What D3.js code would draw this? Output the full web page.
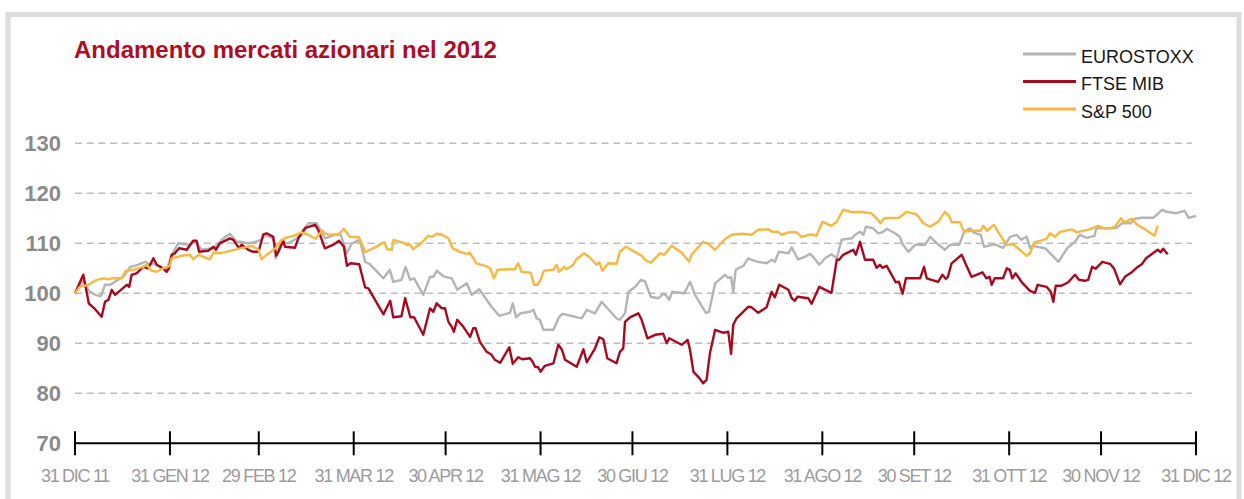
<!DOCTYPE html>
<html>
<head>
<meta charset="utf-8">
<script src="https://cdn.jsdelivr.net/npm/d3@7"></script>
<style>
  body { margin: 0; background: #fff; }
  svg { display: block; }
</style>
</head>
<body>
<svg id="chart" width="1244" height="499"></svg>
<script>
// Andamento mercati azionari nel 2012 - index levels rebased to 100 on 31 Dec 2011
// points are [days after 31 Dec 2011, value]

const seriesNames = ["EUROSTOXX", "FTSE MIB", "S&P 500"];
const seriesColors = ["#b4b4b4", "#a8091f", "#f8b840"];

const eurostoxx = [
  [0,100],[2.7,102.5],[4.5,100.5],[6.3,99.8],[8.4,99.4],[9.8,101.7],[11.5,101.7],[13,102.3],[15.8,103.3],
  [18,105.3],[20,105.6],[22.9,106.3],[24.5,105.7],[25.6,106],[28.3,105],[29.9,104.7],[31.6,107.7],[33.7,110],
  [36.9,109.7],[39.2,110.3],[41.3,108.7],[45.2,109],[47.9,110.7],[50.6,111.9],[52.8,110.3],[54.4,110.3],
  [56.6,110],[58.8,110.3],[60.9,110.7],[62,111.7],[64.7,111],[65.5,107],[67.5,110.3],[69.7,110],[72.4,111],
  [76.2,114],[78.9,114],[81.6,111],[84.9,111.7],[86.8,111.7],[88.7,108],[90.4,110],[93,110.7],[94.7,106.3],
  [96.3,105.8],[100.7,103],[102.8,104.7],[103.9,102.3],[106.6,102.7],[107.9,105.3],[109.4,102.7],[110.7,103],
  [113.7,99.7],[115.9,103.3],[117,103.3],[118.1,104.5],[120.3,103.4],[123,103],[124.8,100.7],[127.9,102],
  [129.5,99.7],[132,100.8],[136,97.3],[138.5,95.5],[142,96.1],[142.9,98],[144,95.2],[145.4,96],[148.6,96.3],
  [149.7,96.7],[150.7,95],[151.8,94.7],[152.9,92.7],[156.2,92.7],[158.1,95.3],[159.2,95.9],[165.4,95],
  [167.1,96.7],[169.8,96],[171.9,98.3],[176.8,95],[177.9,94.7],[179.6,96],[180.7,100.3],[182.8,101.2],
  [184.8,102.7],[186.1,102.4],[188,99.3],[190.4,99],[192.1,99.9],[193.1,99.5],[194,98.7],[195,100.3],
  [198.9,100],[200.8,102.3],[202.4,99.7],[206,96.1],[207,96.3],[209,102],[212.2,103.7],[213.3,103.1],
  [214.2,103.2],[214.9,100.3],[215.7,104.7],[218.2,105.5],[219.8,107],[220.9,106.7],[222.9,106.3],
  [225.8,106],[227.4,106.7],[228.5,106.3],[229.8,108.3],[232.9,108],[234,109.2],[236,106.8],[238.3,107.3],
  [240,107.9],[241,107.3],[243,105.7],[244.9,107],[247,107.8],[248.7,107],[250.3,110.7],[253.6,111],
  [254.7,111.7],[256.3,112.3],[257.4,111.7],[258.2,113.3],[260.6,113],[262.3,112],[263.9,112.3],[265,112.9],
  [267.7,112],[269.3,111.3],[270.2,109.8],[272.1,108.3],[274.3,109.7],[277.5,109.7],[279.2,111.3],
  [281.8,109.8],[284,108.7],[285.7,109.7],[288.7,109.7],[290.3,112.3],[292.2,113],[293.3,112.2],
  [295.7,111.7],[296.8,109.3],[299.5,109.7],[300.3,109.8],[303,109.1],[305.3,111.3],[307.4,111.7],
  [309,110.7],[310.7,111.3],[311.8,109.1],[312.9,109.6],[314,109.3],[316.8,109],[318.4,108],[321.1,106.3],
  [323.9,109],[326.5,110.3],[328.1,111.7],[330.3,111.1],[332.9,111.5],[333.4,113],[337.9,113],[340.1,113.1],
  [341.8,114],[344.7,114],[346.1,114.9],[348.3,115.1],[352.1,115.1],[354.9,116.7],[356.5,116.3],
  [359.3,116],[362.3,116.5],[363.6,115.1],[366,115.5]
];

const ftseMib = [
  [0,100],[2.7,103.7],[4.5,98],[6.3,97],[8.7,95.3],[9.8,98.3],[10.9,98.7],[12,100.7],[13.1,99.7],[16.9,101.7],
  [17.7,101.3],[18.5,103.7],[20.1,104],[22.3,105.3],[23.9,105],[25.6,107],[26.7,105.7],[28.8,105],[29.9,104.3],
  [30.7,105],[31.6,107.7],[32.6,108],[34,109],[36.5,108.7],[38.6,110.5],[39.7,110.5],[40.5,108.3],[43.5,108.5],
  [45.2,109.3],[46,108.7],[47.3,110],[50.6,111],[51.7,110.7],[53.6,109],[54.4,109.7],[56.6,108.7],[58.2,108.3],
  [59.9,108.3],[61.5,111.8],[62.6,112],[64.7,111.3],[65.7,107.5],[66.4,108.3],[68,110.5],[68.6,109.3],
  [71.8,109.1],[72.9,111],[75.3,113.1],[78.4,113.7],[79.4,112.7],[81.6,109],[84.6,109.8],[86.2,110.5],
  [87.8,109.3],[88.8,105.5],[90,106],[92.8,105.8],[94.7,101.2],[95.8,101],[100.7,95.8],[102.9,98.5],
  [103.9,95.2],[106.6,95.4],[107.8,99],[109.5,95.2],[110.7,95.2],[113.7,91.7],[115.9,97],[117,96.3],
  [118.1,98],[119.8,97],[120.8,97],[121.9,94.3],[123,93.3],[123.7,92.3],[124.8,94.7],[126.8,93.3],[129,91.3],
  [130,93],[130.8,93],[132.2,90.3],[134.4,88.3],[136,87.7],[137.1,86.7],[138.8,86.1],[141.8,89.2],[142.9,85.9],
  [144.7,87.2],[146,86.8],[148.6,87],[149.4,86.3],[150.2,85.3],[151.2,85.2],[152,84.3],[153.4,85.5],[156.2,86],
  [157.8,89.7],[159,88.7],[160,86.7],[163.8,85.3],[166,88.8],[167.1,86.2],[169.8,89],[171.2,91.2],[172.5,90.8],
  [173.8,87],[176.8,86],[177.9,88.3],[179,89],[179.6,94.3],[181.2,95.2],[183.9,96],[185,94.7],[186.9,91],
  [189.4,91.7],[192.1,91.9],[193.2,90],[194,91],[198.1,89.7],[200,90.7],[200.8,88.7],[201.9,84.3],[203.5,83.3],
  [205.1,82],[206.2,82.7],[207.3,88],[209,92.7],[211.7,92.1],[213.3,92.3],[214.2,87.9],[214.9,93.7],[216,95],
  [219.8,97.3],[220.9,97.2],[223.1,96.1],[225.8,97.2],[227.4,100.3],[228.5,99.2],[229.9,101.7],[232.9,100.7],
  [234,99],[235,98.5],[235.9,99.3],[239.4,99],[240.5,97.9],[243,101.3],[247,100.1],[248.7,106.7],[249.5,106.7],
  [250.8,107.7],[254.1,108.7],[254.9,107.7],[256.3,110.3],[257.9,106.7],[260.6,106.7],[261.7,105.1],
  [262.8,105.7],[263.6,105.1],[265,105.5],[268,102.2],[269,102.3],[270.2,99.9],[271.3,103],[275.9,103],
  [277.2,105.3],[278.1,103],[281.8,102.3],[283.2,103.7],[284.3,102.9],[285,103.3],[286.2,106],[289.5,107.7],
  [290.9,105.7],[292.7,103.3],[296.3,104.2],[297.6,103],[298.6,103.3],[299.3,101.7],[300.3,103],[303,103],
  [304.2,105],[305.2,104.7],[306,103],[307.1,104],[309,102.3],[311.8,100.5],[313.4,100.1],[314.3,101.7],
  [317.2,101.3],[318.6,100.3],[319.4,98.3],[320.2,101.5],[322.1,101.5],[324.3,102.2],[326.5,103.7],
  [327.8,102.7],[329.7,102.5],[330.8,102.7],[332.1,105.3],[333.2,104.9],[335.4,106.3],[337.9,105.9],
  [339.3,104.9],[341.2,101.8],[342.8,103.3],[345,104.2],[346.6,105.1],[348.3,105.8],[349.7,107],[351.9,108],
  [353.5,108.7],[354.5,108.2],[355.3,108.9],[356.8,107.8]
];

const sp500 = [
  [0,100],[1.6,101.3],[4.4,101.7],[7.1,102.7],[9.3,103],[10.9,102.8],[12.5,103],[15.2,103],[16.6,104.5],
  [19,104.7],[22.3,105.3],[23.4,105.7],[25,104.5],[26.7,104.3],[28.8,105],[31,105.5],[31.6,107],[34.8,107.5],
  [37.5,107.7],[38.6,106.8],[40.3,107.7],[44.1,106.8],[45.2,108.1],[47.3,108],[50.6,108.5],[53.9,109],
  [57.7,109.5],[59.9,108.7],[60.9,106.8],[62.6,107.7],[65.5,109],[67.5,110.7],[69.2,111.2],[71.3,111.5],
  [74,112.2],[76.2,111.7],[78.6,110.9],[80.7,112.6],[81.8,111.9],[83.3,111.7],[86,111.8],[87.8,112.9],
  [89.7,111.3],[92.7,111.2],[94.8,108.2],[96.3,108.7],[99.6,109.7],[101,110.2],[101.9,108.8],[103.4,108.7],
  [104,110.7],[107.2,110.1],[108.5,109.6],[109.5,109.7],[110.3,108.8],[113.1,110],[115.3,111.5],[116.7,111.3],
  [118.1,111.9],[119.8,111.7],[121.9,111],[123.3,109],[125.7,108.3],[127.9,107.9],[128.9,108.1],[131.1,106],
  [133.9,105.5],[135.5,105],[136.8,103],[137.9,104.7],[142,104.8],[143.6,104.8],[144.7,106],[145.8,104.3],
  [148.8,104.1],[149.9,101.7],[151,101.7],[152,102.7],[153.1,104.5],[156.2,104.7],[157.2,105.7],[158.1,104.3],
  [159.7,105.3],[160.5,104.8],[162.7,105.7],[163.6,106.7],[166.2,108],[168,107.2],[170.3,105.7],[171.2,106.2],
  [172.2,104.5],[174.1,106],[176.8,105.9],[177.9,108.3],[179.9,109.3],[181.5,108.7],[185,107.5],[186.1,106.7],
  [188,106.1],[191,108],[192.4,107.7],[194.8,109.5],[198.1,108.1],[200.5,106.3],[201.3,107.7],[205.1,110.3],
  [206.7,109.9],[209,108.7],[212.2,110.8],[214.4,111.7],[217.7,111.9],[220.9,111.7],[223.1,112.7],
  [226.4,112.8],[227.5,112.3],[229.6,112.3],[230.7,111.7],[232.9,112.2],[235.6,112.2],[237.2,111.3],
  [240.2,111.8],[242.1,111.5],[244.1,114.3],[247,113.5],[248.7,114.3],[250.8,116.7],[254.1,116.2],
  [256.3,116.3],[260,116],[261.7,115],[263,114],[264.2,115],[269.1,115.1],[271.5,116.3],[274.8,115.8],
  [277,114],[279.2,113.3],[281.8,114.3],[284,116.3],[285.4,115.5],[286.2,114.2],[288.9,114.2],[290.3,112.3],
  [292.7,112.5],[295.7,112.5],[296.5,113.5],[297.8,112.5],[300,113.7],[302,111.7],[304.2,109.7],[306.3,109.8],
  [308.5,108.7],[310.7,107.5],[311.8,108],[313.2,110.2],[317.2,110.9],[318.3,112],[319.9,111.3],[321.6,112.3],
  [325.4,112.8],[327,112.2],[331.8,112.9],[334,113.5],[336.2,113],[337.8,113],[339.5,113.3],[341.5,115],
  [342.6,114.2],[345.2,114.9],[346.6,113.8],[349.3,112.8],[352.4,111.5],[353.5,113.5]
];

const yTicks = [70, 80, 90, 100, 110, 120, 130];
const xTickLabels = ["31 DIC 11", "31 GEN 12", "29 FEB 12", "31 MAR 12", "30 APR 12", "31 MAG 12",
  "30 GIU 12", "31 LUG 12", "31 AGO 12", "30 SET 12", "31 OTT 12", "30 NOV 12", "31 DIC 12"];
const xTickDates = ["2011-12-31", "2012-01-31", "2012-02-29", "2012-03-31", "2012-04-30", "2012-05-31",
  "2012-06-30", "2012-07-31", "2012-08-31", "2012-09-30", "2012-10-31", "2012-11-30", "2012-12-31"];

const svg = d3.select("#chart");
const parse = d3.timeParse("%Y-%m-%d");
const start = parse("2011-12-31");

const x = d3.scaleTime().domain([start, parse("2012-12-31")]).range([75, 1196]);
const y = d3.scaleLinear().domain([70, 130]).range([443.3, 143.3]);

// light grey frame round the whole thing
svg.append("rect")
  .attr("x", 8).attr("y", 14.5)
  .attr("width", 1231).attr("height", 520)
  .attr("fill", "none")
  .attr("stroke", "#dcdddf")
  .attr("stroke-width", 5);

svg.append("text")
  .attr("x", 74).attr("y", 58)
  .style("font-family", "'Liberation Sans', Arial, sans-serif")
  .style("font-weight", "bold")
  .style("font-size", "24px")
  .style("fill", "#b00d24")
  .text("Andamento mercati azionari nel 2012");

// dashed grid (70 is the axis itself)
svg.append("g").selectAll("line")
  .data(yTicks.filter(d => d > 70))
  .join("line")
  .attr("x1", 75).attr("x2", 1192)
  .attr("y1", d => y(d)).attr("y2", d => y(d))
  .attr("stroke", "#bdbdbd")
  .attr("stroke-width", 1.4)
  .attr("stroke-dasharray", "7,4.7");

svg.append("g").selectAll("text")
  .data(yTicks)
  .join("text")
  .attr("x", 61)
  .attr("y", d => y(d) + 8)
  .attr("text-anchor", "end")
  .style("font-family", "'Liberation Sans', Arial, sans-serif")
  .style("font-weight", "bold")
  .style("font-size", "22px")
  .style("fill", "#8a8a8a")
  .text(d => d);

// x axis: line, ticks crossing it, labels
svg.append("line")
  .attr("x1", x(start)).attr("x2", x(parse("2012-12-31")))
  .attr("y1", y(70)).attr("y2", y(70))
  .attr("stroke", "#000").attr("stroke-width", 2);

svg.append("g").selectAll("line")
  .data(xTickDates)
  .join("line")
  .attr("x1", d => x(parse(d))).attr("x2", d => x(parse(d)))
  .attr("y1", y(70) - 12).attr("y2", y(70) + 12)
  .attr("stroke", "#000").attr("stroke-width", 2);

svg.append("g").selectAll("text")
  .data(xTickDates)
  .join("text")
  .attr("x", d => x(parse(d)))
  .attr("y", 482)
  .attr("text-anchor", "middle")
  .style("font-family", "'Liberation Sans', Arial, sans-serif")
  .style("font-size", "18px")
  .style("letter-spacing", "-1.3px")
  .style("fill", "#9b9b9b")
  .text((d, i) => xTickLabels[i]);

// the three index lines
const line = d3.line()
  .x(d => x(d3.timeHour.offset(start, Math.round(d[0] * 24))))
  .y(d => y(d[1]));

const allSeries = [eurostoxx, ftseMib, sp500];
allSeries.forEach((s, i) => {
  svg.append("path")
    .datum(s)
    .attr("d", line)
    .attr("fill", "none")
    .attr("stroke", seriesColors[i])
    .attr("stroke-width", 2.4)
    .attr("stroke-linejoin", "round");
});

// legend
const legend = svg.append("g").selectAll("g")
  .data(seriesNames)
  .join("g")
  .attr("transform", (d, i) => "translate(1023," + (54 + i * 27.5) + ")");

legend.append("line")
  .attr("x1", 0).attr("x2", 53)
  .attr("stroke", (d, i) => seriesColors[i])
  .attr("stroke-width", 3);

legend.append("text")
  .attr("x", 58).attr("y", 8.5)
  .style("font-family", "'Liberation Sans', Arial, sans-serif")
  .style("font-size", "18px")
  .style("fill", "#161616")
  .text(d => d);
</script>
</body>
</html>
